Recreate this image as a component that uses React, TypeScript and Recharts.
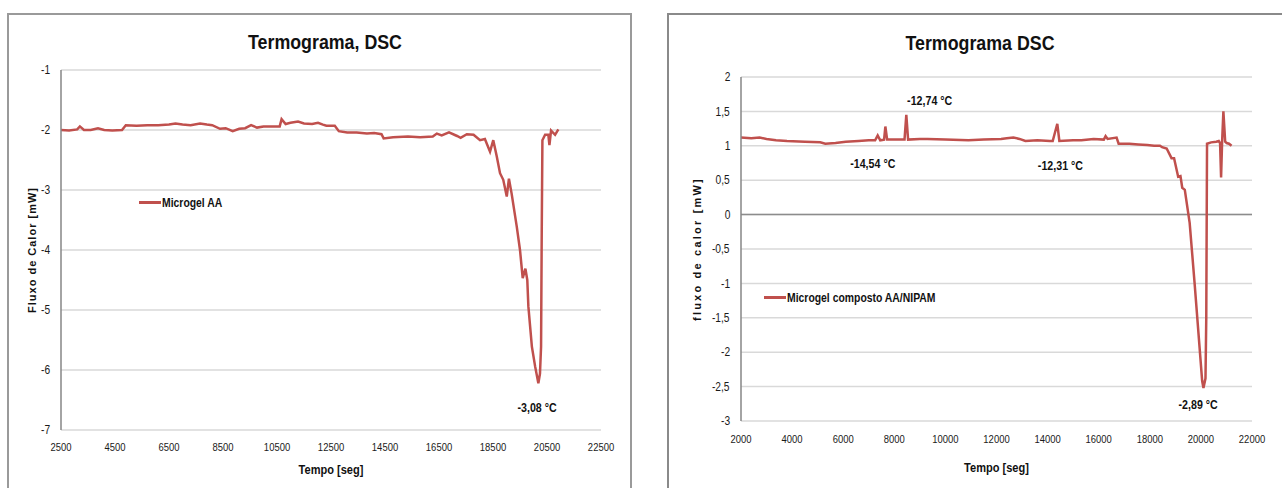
import React from 'react';
import { LineChart, Line, XAxis, YAxis, CartesianGrid, ReferenceLine, ReferenceDot, Legend } from 'recharts';

// ---- Microgel AA (left thermogram) ----
const aaTime = [
  2500, 2800, 3100, 3200, 3350, 3600, 3870, 4100, 4400, 4760, 4900, 5300, 5700, 6100, 6500, 6740,
  7000, 7300, 7650, 7900, 8100, 8390, 8600, 8860, 9100, 9320, 9540, 9760, 10000, 10300, 10600, 10670,
  10820, 11000, 11280, 11500, 11800, 12020, 12200, 12330, 12640, 12790, 13100, 13450, 13830, 14100, 14370, 14450,
  14800, 15350, 15800, 16270, 16420, 16600, 16870, 17170, 17300, 17530, 17780, 18020, 18200, 18390, 18510, 18640,
  18760, 18880, 19010, 19090, 19190, 19380, 19500, 19600, 19700, 19770, 19810, 19940, 20060, 20180, 20240, 20280,
  20305, 20330, 20430, 20550, 20590, 20650, 20800, 20920,
];
const aaFlux = [
  -2.0, -2.01, -1.99, -1.94, -2.0, -2.0, -1.97, -2.0, -2.01, -2.0, -1.92, -1.93, -1.92, -1.92, -1.91, -1.89,
  -1.91, -1.92, -1.89, -1.91, -1.92, -1.98, -1.97, -2.02, -1.98, -1.97, -1.92, -1.96, -1.94, -1.94, -1.94, -1.82,
  -1.9, -1.88, -1.86, -1.89, -1.9, -1.88, -1.91, -1.93, -1.93, -2.02, -2.04, -2.04, -2.06, -2.05, -2.07, -2.14,
  -2.12, -2.11, -2.12, -2.11, -2.06, -2.09, -2.04, -2.1, -2.13, -2.07, -2.08, -2.17, -2.15, -2.36, -2.17, -2.44,
  -2.72, -2.83, -3.11, -2.81, -3.06, -3.61, -4.0, -4.47, -4.31, -4.5, -4.94, -5.61, -5.94, -6.22, -6.06, -5.61,
  -3.7, -2.17, -2.08, -2.08, -2.25, -2.01, -2.08, -1.99,
];
const aaXTicks = [2500, 4500, 6500, 8500, 10500, 12500, 14500, 16500, 18500, 20500, 22500];
const aaYTicks = [-7, -6, -5, -4, -3, -2, -1];
const aaNotes = [{ t: 20131, v: -6.62, text: '-3,08 °C' }];

// ---- Microgel composto AA/NIPAM (right thermogram) ----
const compTime = [
  2000, 2400, 2730, 3000, 3370, 3800, 4500, 5100, 5300, 5700, 6100, 6600, 7000, 7250, 7350, 7450,
  7600, 7650, 7720, 8000, 8400, 8470, 8540, 9000, 9300, 10000, 10900, 11500, 12180, 12400, 12660, 12900,
  13130, 13600, 14090, 14200, 14380, 14460, 15000, 15320, 15800, 16200, 16270, 16350, 16700, 16780, 17200, 17550,
  17900, 18170, 18400, 18480, 18660, 18850, 18950, 19110, 19200, 19270, 19370, 19560, 19750, 19950, 20050, 20100,
  20180, 20210, 20240, 20400, 20600, 20700, 20750, 20790, 20830, 20880, 20950, 21010, 21100, 21200,
];
const compFlux = [
  1.12, 1.11, 1.12, 1.1, 1.08, 1.07, 1.06, 1.05, 1.03, 1.04, 1.06, 1.07, 1.08, 1.08, 1.15, 1.08,
  1.09, 1.28, 1.09, 1.09, 1.09, 1.45, 1.09, 1.1, 1.1, 1.09, 1.08, 1.09, 1.1, 1.11, 1.12, 1.1,
  1.07, 1.08, 1.07, 1.07, 1.32, 1.07, 1.08, 1.08, 1.1, 1.09, 1.14, 1.1, 1.12, 1.03, 1.03, 1.02,
  1.01, 1.0, 1.0, 0.98, 0.96, 0.82, 0.82, 0.55, 0.56, 0.39, 0.36, -0.12, -0.98, -1.94, -2.42, -2.52,
  -2.38, -1.5, 1.03, 1.05, 1.06, 1.07, 1.04, 0.54, 1.06, 1.5, 1.06, 1.04, 1.03, 1.0,
];
const compXTicks = [2000, 4000, 6000, 8000, 10000, 12000, 14000, 16000, 18000, 20000, 22000];
const compYTicks = [-3, -2.5, -2, -1.5, -1, -0.5, 0, 0.5, 1, 1.5, 2];
const compNotes = [
  { t: 9383, v: 1.654, text: '-12,74 °C' },
  { t: 7156, v: 0.738, text: '-14,54 °C' },
  { t: 14500, v: 0.709, text: '-12,31 °C' },
  { t: 19891, v: -2.765, text: '-2,89 °C' },
];

const aaData = aaTime.map((t, i) => ({ t, flux: aaFlux[i] }));
const compData = compTime.map((t, i) => ({ t, flux: compFlux[i] }));

const RED = '#c0504d';
const GRID = '#d9d9d9';
const AXIS = '#868686';
const FONT = '"Liberation Sans", Arial, sans-serif';

const squeeze = (s: number): React.CSSProperties => ({
  transform: `scaleX(${s})`,
  transformBox: 'fill-box' as any,
  transformOrigin: 'center',
});

const comma = (v: number) => String(v).replace('.', ',');

const XTick = (p: any) => (
  <text x={p.x} y={p.y} dy="0.71em" textAnchor="middle" fontFamily={FONT} fontSize={11} fill="#1a1a1a" style={squeeze(0.86)}>
    {p.payload.value}
  </text>
);

const YTick = (p: any) => (
  <text x={p.x} y={p.y} dy="0.355em" textAnchor="end" fontFamily={FONT} fontSize={12} fill="#1a1a1a" style={squeeze(0.85)}>
    {comma(p.payload.value)}
  </text>
);

const XTitle = (offset: number) => (p: any) => {
  const vb = p.viewBox;
  return (
    <text
      x={vb.x + vb.width / 2}
      y={vb.y + vb.height - offset}
      textAnchor="middle"
      fontFamily={FONT}
      fontWeight="bold"
      fontSize={13}
      fill="#111"
      style={squeeze(0.85)}
    >
      Tempo [seg]
    </text>
  );
};

const LegendBox = ({ label }: { label: string }) => (
  <div style={{ display: 'flex', alignItems: 'center', whiteSpace: 'nowrap', lineHeight: '15px' }}>
    <span style={{ display: 'inline-block', width: 22, height: 3, background: RED, marginRight: 1 }} />
    <span
      style={{
        display: 'inline-block',
        fontFamily: FONT,
        fontWeight: 'bold',
        fontSize: 13,
        color: '#111',
        transform: 'scaleX(0.8)',
        transformOrigin: 'left center',
      }}
    >
      {label}
    </span>
  </div>
);

const noteShape = (text: string) => (p: any) => (
  <text
    x={p.cx}
    y={p.cy}
    textAnchor="middle"
    dominantBaseline="central"
    fontFamily={FONT}
    fontWeight="bold"
    fontSize={13}
    fill="#111"
    style={squeeze(0.82)}
  >
    {text}
  </text>
);

const titleStyle = (cx: number, cy: number): React.CSSProperties => ({
  position: 'absolute',
  left: cx - 150,
  top: cy - 13,
  width: 300,
  textAlign: 'center',
  fontFamily: FONT,
  fontWeight: 'bold',
  fontSize: 20,
  lineHeight: '26px',
  color: '#111',
  transform: 'scaleX(0.89)',
});

export default function App() {
  return (
    <div style={{ position: 'absolute', left: 0, top: 0, width: 1282, height: 488, background: '#fff', overflow: 'hidden' }}>
      {/* chart frames */}
      <div style={{ position: 'absolute', left: 7, top: 13, width: 621, height: 500, border: '2px solid #9a9a9a' }} />
      <div style={{ position: 'absolute', left: 667, top: 13, width: 700, height: 500, border: '2px solid #8a8a8a' }} />

      <div style={titleStyle(325, 42)}>Termograma, DSC</div>
      <div style={titleStyle(980, 43)}>Termograma DSC</div>

      <div style={{ position: 'absolute', left: 0, top: 0 }}>
        <LineChart width={640} height={488} data={aaData} margin={{ top: 70, right: 39, bottom: 0, left: 0 }}>
          <CartesianGrid vertical={false} stroke={GRID} strokeWidth={1.5} />
          <XAxis
            dataKey="t"
            type="number"
            domain={[2500, 22500]}
            ticks={aaXTicks}
            interval={0}
            axisLine={false}
            tickLine={false}
            tickSize={6}
            tickMargin={7}
            height={58}
            tick={<XTick />}
            label={{ content: XTitle(14) }}
          />
          <YAxis
            type="number"
            domain={[-7, -1]}
            ticks={aaYTicks}
            interval={0}
            width={61}
            axisLine={{ stroke: AXIS, strokeWidth: 1.5 }}
            tickLine={false}
            tickSize={5}
            tickMargin={5}
            tick={<YTick />}
            label={{
              value: 'Fluxo de Calor [mW]',
              angle: -90,
              position: 'insideLeft',
              offset: 32,
              style: { textAnchor: 'middle', fontFamily: FONT, fontWeight: 'bold', fontSize: 11, letterSpacing: 1, fill: '#111' },
            }}
          />
          <Legend
            layout="vertical"
            align="center"
            verticalAlign="middle"
            wrapperStyle={{ left: 139, top: 195, width: 'auto' }}
            content={() => <LegendBox label="Microgel AA" />}
          />
          <Line type="linear" dataKey="flux" name="Microgel AA" stroke={RED} strokeWidth={2.5} dot={false} isAnimationActive={false} />
          {aaNotes.map((n) => (
            <ReferenceDot key={n.text} x={n.t} y={n.v} r={0} shape={noteShape(n.text)} />
          ))}
        </LineChart>
      </div>

      <div style={{ position: 'absolute', left: 640, top: 0 }}>
        <LineChart width={642} height={488} data={compData} margin={{ top: 77, right: 30, bottom: 0, left: 0 }}>
          <CartesianGrid vertical={false} stroke={GRID} strokeWidth={1.5} />
          <XAxis
            dataKey="t"
            type="number"
            domain={[2000, 22000]}
            ticks={compXTicks}
            interval={0}
            axisLine={false}
            tickLine={false}
            tickSize={6}
            tickMargin={8}
            height={67}
            tick={<XTick />}
            label={{ content: XTitle(16) }}
          />
          <YAxis
            type="number"
            domain={[-3, 2]}
            ticks={compYTicks}
            interval={0}
            width={101}
            axisLine={{ stroke: AXIS, strokeWidth: 1.5 }}
            tickLine={false}
            tickSize={5}
            tickMargin={5}
            tick={<YTick />}
            label={{
              value: 'fluxo de calor [mW]',
              angle: -90,
              position: 'insideLeft',
              offset: 57,
              style: { textAnchor: 'middle', fontFamily: FONT, fontWeight: 'bold', fontSize: 11, letterSpacing: 2.2, fill: '#111' },
            }}
          />
          <ReferenceLine y={0} stroke="#8c8c8c" strokeWidth={1.5} />
          <Legend
            layout="vertical"
            align="center"
            verticalAlign="middle"
            wrapperStyle={{ left: 124, top: 290, width: 'auto' }}
            content={() => <LegendBox label="Microgel composto AA/NIPAM" />}
          />
          <Line type="linear" dataKey="flux" name="Microgel composto AA/NIPAM" stroke={RED} strokeWidth={2.5} dot={false} isAnimationActive={false} />
          {compNotes.map((n) => (
            <ReferenceDot key={n.text} x={n.t} y={n.v} r={0} shape={noteShape(n.text)} />
          ))}
        </LineChart>
      </div>
    </div>
  );
}
